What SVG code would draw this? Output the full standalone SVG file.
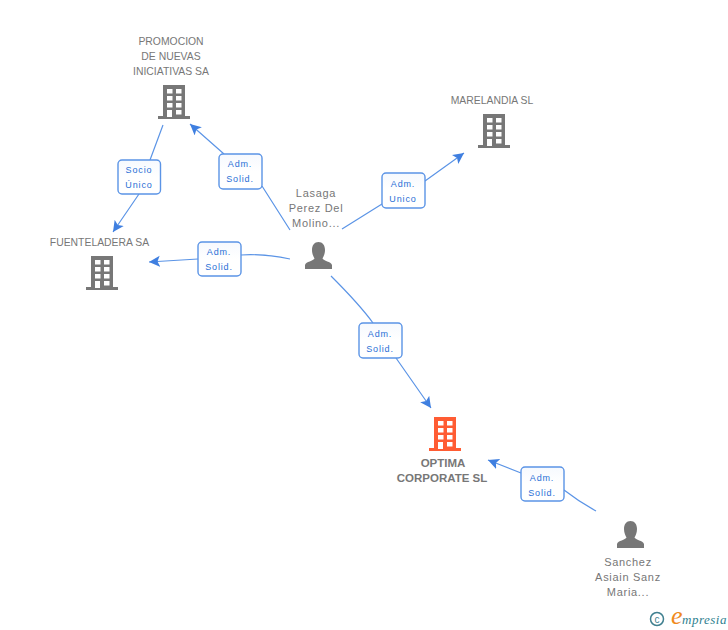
<svg xmlns="http://www.w3.org/2000/svg" width="728" height="630" viewBox="0 0 728 630">
<style>
.n{font:10.4px "Liberation Sans",Arial,sans-serif;fill:#777;text-anchor:middle}
.p{font:11px "Liberation Sans",Arial,sans-serif;fill:#777;text-anchor:middle;letter-spacing:.7px}
.b{font:bold 11.5px "Liberation Sans",Arial,sans-serif;fill:#777;text-anchor:middle}
.l{font:9px "Liberation Sans",Arial,sans-serif;fill:#2a6fd6;text-anchor:middle;letter-spacing:.85px}
.c{fill:none;stroke:#5b94e6;stroke-width:1.2}
.box{fill:url(#g);stroke:#5b94e6;stroke-width:1.4}
.w{fill:#fff}
</style>
<defs>
<linearGradient id="g" x1="0" y1="0" x2="0" y2="1"><stop offset="0" stop-color="#f6f9fe"/><stop offset=".5" stop-color="#fff"/></linearGradient>
<marker id="a" markerWidth="13" markerHeight="12" refX="11" refY="6" orient="auto" markerUnits="userSpaceOnUse"><path d="M0 .5L11 6L0 11.500L2.500 6Z" fill="#3f7fe0"/></marker>
<g id="bld"><path d="M5 0H27V31H32V34H0V31H5Z"/><g class="w"><rect x="9" y="4" width="5.500" height="4.500"/><rect x="18" y="4" width="5.500" height="4.500"/><rect x="9" y="11" width="5.500" height="4.500"/><rect x="18" y="11" width="5.500" height="4.500"/><rect x="9" y="18" width="5.500" height="4.500"/><rect x="18" y="18" width="5.500" height="4.500"/><rect x="9" y="25" width="5" height="7"/><rect x="18" y="25" width="5.500" height="4.500"/></g></g>
<path id="per" d="M13.500 0C17.500 0 20 3 20 8C20 12 18.500 14.500 17.500 16.500C18.500 19 26 19.500 27 23V27H0V23C1 19.500 8.500 19 9.500 16.500C8.500 14.500 7 12 7 8C7 3 9.500 0 13.500 0Z"/>
</defs>
<g id="connectors">
<path class="c" marker-end="url(#a)" d="M163 125L150 160M139 194L113 232"/>
<path class="c" marker-end="url(#a)" d="M290 230L262 186M224 154L190 124"/>
<path class="c" marker-end="url(#a)" d="M342 229L382 204M425 181L464 153"/>
<path class="c" marker-end="url(#a)" d="M290 259C270 255 255 254 241 255M198 259L149 262"/>
<path class="c" marker-end="url(#a)" d="M331 276C345 290 360 305 373 323M396 358L431 408"/>
<path class="c" marker-end="url(#a)" d="M596 511C585 505 573 497 564 490M521 473L488 460"/>
</g>
<g id="n1"><use href="#bld" x="158" y="85" fill="#777"/><text class="n" x="171" y="45">PROMOCION</text><text class="n" x="171" y="60">DE NUEVAS</text><text class="n" x="171" y="75">INICIATIVAS SA</text></g>
<g id="n2"><use href="#bld" x="478" y="114" fill="#777"/><text class="n" x="492" y="104">MARELANDIA SL</text></g>
<g id="n3"><use href="#bld" x="86" y="256" fill="#777"/><text class="n" x="99.500" y="246">FUENTELADERA SA</text></g>
<g id="n4"><use href="#per" x="305" y="242" fill="#777"/><text class="p" x="316" y="197">Lasaga</text><text class="p" x="316" y="212">Perez Del</text><text class="p" x="316" y="227">Molino...</text></g>
<g id="n5"><use href="#bld" x="429" y="417" fill="#ff5c33"/><text class="b" x="443" y="467">OPTIMA</text><text class="b" x="442" y="482">CORPORATE SL</text></g>
<g id="n6"><use href="#per" x="617" y="521" fill="#777"/><text class="p" x="628" y="566">Sanchez</text><text class="p" x="628" y="581">Asiain Sanz</text><text class="p" x="628" y="596">Maria...</text></g>
<g id="labels">
<g><rect class="box" x="118" y="160" width="42.500" height="34" rx="4"/><text class="l" x="139" y="173">Socio</text><text class="l" x="139" y="188">Único</text></g>
<g><rect class="box" x="219" y="154" width="43" height="35" rx="4"/><text class="l" x="240" y="167">Adm.</text><text class="l" x="240" y="182">Solid.</text></g>
<g><rect class="box" x="382" y="173" width="43" height="35" rx="4"/><text class="l" x="403" y="187">Adm.</text><text class="l" x="403" y="202">Unico</text></g>
<g><rect class="box" x="198" y="242" width="43" height="34" rx="4"/><text class="l" x="219" y="255">Adm.</text><text class="l" x="219" y="270">Solid.</text></g>
<g><rect class="box" x="359" y="323" width="43" height="35" rx="4"/><text class="l" x="380" y="337">Adm.</text><text class="l" x="380" y="352">Solid.</text></g>
<g><rect class="box" x="521" y="467" width="43" height="34" rx="4"/><text class="l" x="542" y="481">Adm.</text><text class="l" x="542" y="496">Solid.</text></g>
</g>
<g id="logo"><circle cx="657" cy="619" r="6.500" fill="none" stroke="#3f7f8f" stroke-width="1.500"/><text x="657" y="622.500" font-family="Liberation Sans,sans-serif" font-size="10" fill="#3f7f8f" text-anchor="middle">c</text><text x="671" y="624" font-family="Liberation Serif,serif" font-style="italic" fill="#2f7f8f"><tspan font-size="26" fill="#f08a1d">e</tspan><tspan font-size="13" dx="-0.500" letter-spacing=".5">mpresia</tspan></text></g>
</svg>
